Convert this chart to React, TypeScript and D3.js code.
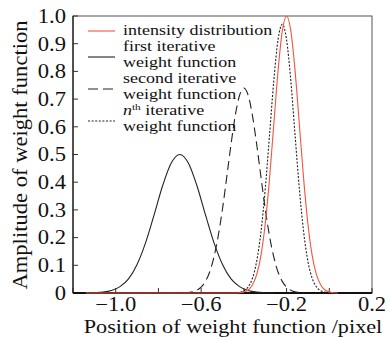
import { useEffect, useRef } from 'react'
import * as d3 from 'd3'

// values
const intensityX = [-1.14, -0.44, -0.42, -0.4, -0.38, -0.36, -0.34, -0.32, -0.3, -0.28, -0.26, -0.24, -0.22, -0.2, -0.18, -0.16, -0.14, -0.12, -0.1, -0.08, -0.06, -0.04, -0.02, 0.0, 0.02, 0.04]
const intensityY = [0, 0, 0.001, 0.004, 0.011, 0.029, 0.066, 0.135, 0.249, 0.411, 0.607, 0.801, 0.946, 1.0, 0.946, 0.801, 0.607, 0.411, 0.249, 0.135, 0.066, 0.029, 0.011, 0.004, 0.001, 0]

const firstX = [-1.14, -1.1, -1.06, -1.02, -0.98, -0.94, -0.9, -0.86, -0.82, -0.78, -0.74, -0.7, -0.66, -0.62, -0.58, -0.54, -0.5, -0.46, -0.42, -0.38, -0.34, -0.3, -0.26]
const firstY = [0, 0.001, 0.003, 0.009, 0.023, 0.051, 0.103, 0.182, 0.283, 0.388, 0.469, 0.5, 0.469, 0.388, 0.283, 0.182, 0.103, 0.051, 0.023, 0.009, 0.003, 0.001, 0]

const secondX = [-1.14, -0.68, -0.66, -0.64, -0.62, -0.6, -0.58, -0.56, -0.54, -0.52, -0.5, -0.48, -0.46, -0.44, -0.42, -0.4, -0.38, -0.36, -0.34, -0.32, -0.3, -0.28, -0.26, -0.24, -0.22, -0.2, -0.18, -0.16, -0.14, -0.12]
const secondY = [0, 0, 0.002, 0.004, 0.01, 0.021, 0.042, 0.076, 0.13, 0.206, 0.304, 0.419, 0.537, 0.642, 0.714, 0.74, 0.714, 0.642, 0.537, 0.419, 0.304, 0.206, 0.13, 0.076, 0.042, 0.021, 0.01, 0.004, 0.002, 0]

const nthX = [-1.14, -0.46, -0.44, -0.42, -0.4, -0.38, -0.36, -0.34, -0.32, -0.3, -0.28, -0.26, -0.24, -0.22, -0.2, -0.18, -0.16, -0.14, -0.12, -0.1, -0.08, -0.06, -0.04, -0.02, 0.0, 0.02]
const nthY = [0, 0, 0.001, 0.003, 0.008, 0.022, 0.053, 0.114, 0.22, 0.375, 0.568, 0.765, 0.914, 0.97, 0.914, 0.765, 0.568, 0.375, 0.22, 0.114, 0.053, 0.022, 0.008, 0.003, 0.001, 0]

const yTicks = [0, 0.1, 0.2, 0.3, 0.4, 0.5, 0.6, 0.7, 0.8, 0.9, 1.0]
const xTicks = [-1.2, -1.0, -0.8, -0.6, -0.4, -0.2, 0.0, 0.2]
const xTickLabels = [-1.0, -0.6, -0.2, 0.2]

const FONT = '"Liberation Serif", "Times New Roman", serif'
// reference font is a wide schoolbook face, so widen Times a bit
const WIDEN = 1.13

export default function App() {
  const svgRef = useRef<SVGSVGElement>(null)
  const width = 390
  const height = 337

  useEffect(() => {
    if (!svgRef.current) return
    const svg = d3.select(svgRef.current)
    svg.selectAll('*').remove()

    const left = 73
    const right = 372
    const top = 16
    const bottom = 293

    const x = d3.scaleLinear().domain([-1.2, 0.2]).range([left, right])
    const y = d3.scaleLinear().domain([0, 1]).range([bottom, top])

    svg.append('rect').attr('width', width).attr('height', height).attr('fill', '#fff')

    // frame
    svg
      .append('rect')
      .attr('x', left)
      .attr('y', top)
      .attr('width', right - left)
      .attr('height', bottom - top)
      .attr('fill', 'none')
      .attr('stroke', '#555')
      .attr('stroke-width', 1)

    // inward ticks
    svg
      .selectAll('.ytick')
      .data(yTicks)
      .enter()
      .append('line')
      .attr('x1', left)
      .attr('x2', left + 5)
      .attr('y1', (d) => y(d))
      .attr('y2', (d) => y(d))
      .attr('stroke', '#333')

    svg
      .selectAll('.xtick')
      .data(xTicks)
      .enter()
      .append('line')
      .attr('x1', (d) => x(d))
      .attr('x2', (d) => x(d))
      .attr('y1', bottom)
      .attr('y2', bottom - 5)
      .attr('stroke', '#333')

    svg
      .append('line')
      .attr('x1', left)
      .attr('x2', left)
      .attr('y1', top)
      .attr('y2', bottom)
      .attr('stroke', '#222')
      .attr('stroke-width', 1.3)
    svg
      .append('line')
      .attr('x1', left)
      .attr('x2', right)
      .attr('y1', bottom)
      .attr('y2', bottom)
      .attr('stroke', '#111')
      .attr('stroke-width', 2)

    // tick labels
    svg
      .selectAll('.ylabel')
      .data(yTicks)
      .enter()
      .append('text')
      .attr('transform', (d) => `translate(66,${y(d)}) scale(${WIDEN},1)`)
      .attr('dy', '0.34em')
      .attr('text-anchor', 'end')
      .attr('font-family', FONT)
      .attr('font-size', 20)
      .attr('fill', '#111')
      .text((d) => (d === 0 ? '0' : d3.format('.1f')(d)))

    svg
      .selectAll('.xlabel')
      .data(xTickLabels)
      .enter()
      .append('text')
      .attr('transform', (d) => `translate(${x(d)},311) scale(${WIDEN},1)`)
      .attr('text-anchor', 'middle')
      .attr('font-family', FONT)
      .attr('font-size', 20)
      .attr('fill', '#111')
      .text((d) => d3.format('.1f')(d))

    // axis titles
    svg
      .append('text')
      .attr('transform', `translate(27,155) rotate(-90) scale(${WIDEN},1)`)
      .attr('text-anchor', 'middle')
      .attr('font-family', FONT)
      .attr('font-size', 20)
      .attr('fill', '#111')
      .text('Amplitude of weight function')

    svg
      .append('text')
      .attr('transform', `translate(233,333) scale(1.17,1)`)
      .attr('text-anchor', 'middle')
      .attr('font-family', FONT)
      .attr('font-size', 19)
      .attr('fill', '#111')
      .text('Position of weight function /pixel')

    // curves
    const line = d3
      .line<[number, number]>()
      .x((d) => x(d[0]))
      .y((d) => y(d[1]))
      .curve(d3.curveMonotoneX)

    const series = [
      { xs: firstX, ys: firstY, color: '#222', dash: null },
      { xs: secondX, ys: secondY, color: '#222', dash: '9,5' },
      { xs: nthX, ys: nthY, color: '#222', dash: '2,1.6' },
      { xs: intensityX, ys: intensityY, color: '#f4533f', dash: null },
    ]

    series.forEach((s) => {
      const pts = s.xs.map((v, i) => [v, s.ys[i]] as [number, number])
      svg
        .append('path')
        .attr('d', line(pts))
        .attr('fill', 'none')
        .attr('stroke', s.color)
        .attr('stroke-width', 1.1)
        .attr('stroke-dasharray', s.dash)
    })

    // legend
    const legendLines = [
      { y: 31, color: '#f4533f', dash: null },
      { y: 57, color: '#222', dash: null },
      { y: 89, color: '#222', dash: '10,5' },
      { y: 121, color: '#222', dash: '2,1.6' },
    ]
    legendLines.forEach((l) => {
      svg
        .append('line')
        .attr('x1', 88)
        .attr('x2', 115)
        .attr('y1', l.y)
        .attr('y2', l.y)
        .attr('stroke', l.color)
        .attr('stroke-width', 1.1)
        .attr('stroke-dasharray', l.dash)
    })

    const legendRows = [
      { text: 'intensity distribution', y: 35 },
      { text: 'first iterative', y: 51 },
      { text: 'weight function', y: 67 },
      { text: 'second iterative', y: 83 },
      { text: 'weight function', y: 99 },
      { text: 'nth', y: 115 },
      { text: 'weight function', y: 131 },
    ]
    legendRows.forEach((r) => {
      const t = svg
        .append('text')
        .attr('transform', `translate(123,${r.y}) scale(1.25,1)`)
        .attr('font-family', FONT)
        .attr('font-size', 14.4)
        .attr('fill', '#111')
      if (r.text === 'nth') {
        t.append('tspan').attr('font-style', 'italic').text('n')
        t.append('tspan').attr('font-size', 9).attr('dy', -5).text('th')
        t.append('tspan').attr('dy', 5).text(' iterative')
      } else {
        t.text(r.text)
      }
    })
  }, [])

  return (
    <svg
      ref={svgRef}
      width={width}
      height={height}
      style={{ position: 'absolute', left: 0, top: 0 }}
    />
  )
}
